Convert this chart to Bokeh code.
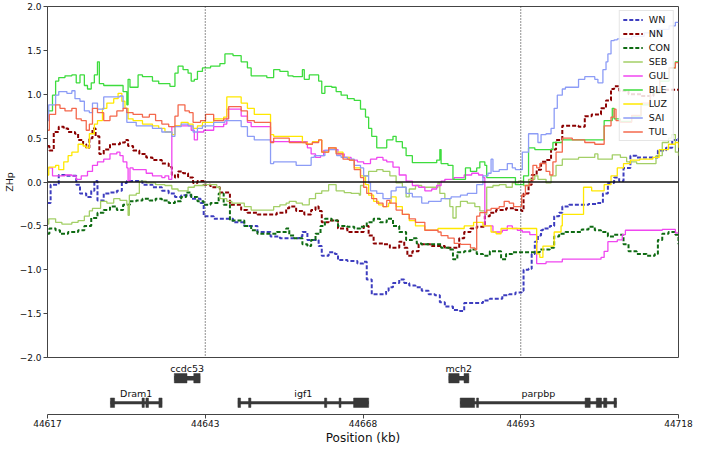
import numpy as np
from bokeh.plotting import figure
from bokeh.models import (Range1d, FixedTicker, Span, Legend, LegendItem,
                          CustomJSTickFormatter)
from bokeh.layouts import column
from bokeh.core.properties import value
from bokeh.embed import file_html
from bokeh.resources import INLINE

# ---------------- data ----------------
REGION_START = 44617  # kb
TICK_OFFSETS = [0, 25.25, 50.5, 75.75, 101]
TICK_LABELS = ["44617", "44643", "44668", "44693", "44718"]
BOUNDARY_OFFSETS = [25.25, 75.75]
Y_TICKS = [-2.0, -1.5, -1.0, -0.5, 0.0, 0.5, 1.0, 1.5, 2.0]

SERIES = ["WN", "NN", "CON", "SEB", "GUL", "BLE", "LUZ", "SAI", "TUL"]

WN_OFF = [0, 0.5, 1.8, 2.8, 4.6, 5.2, 6.2, 7.0, 7.5, 8.0, 9.0, 10.0, 11.1, 11.9, 12.7, 15.2, 16.8, 18.3,
          19.4, 20.4, 21.4, 23.0, 24.5, 25.0, 26.6, 29.7, 31.5, 33.6, 35.7, 37.2, 40.3, 40.8, 41.6, 43.4,
          43.9, 45.0, 46.0, 46.5, 48.0, 49.6, 50.6, 51.1, 51.9, 54.2, 54.6, 55.3, 56.3, 57.1, 57.9, 58.9,
          59.9, 61.0, 62.0, 62.8, 63.6, 64.9, 66.0, 66.7, 69.7, 70.8, 72.8, 73.9, 74.9, 75.9, 76.2, 77.0,
          77.5, 78.0, 78.5, 79.0, 79.3, 80.4, 81.1, 81.9, 82.4, 83.5, 86.6, 88.1, 88.9, 89.7, 90.7, 91.5,
          92.2, 93.3, 94.3, 97.7, 99.0, 100.0, 101]
WN_ZHP = [-0.24, -0.03, 0.08, 0.07, -0.03, -0.13, -0.17, -0.10, 0.01, -0.21, -0.13, -0.12, -0.10, -0.01, 0.01, -0.03, -0.06, -0.10,
          -0.13, -0.17, -0.15, -0.19, -0.24, -0.39, -0.42, -0.46, -0.50, -0.57, -0.62, -0.64, -0.62, -0.57, -0.66, -0.73,
          -0.84, -0.80, -0.82, -0.89, -0.90, -0.93, -0.91, -1.11, -1.28, -1.24, -1.20, -1.15, -1.11, -1.15, -1.18, -1.20,
          -1.24, -1.28, -1.29, -1.37, -1.42, -1.46, -1.47, -1.38, -1.35, -1.33, -1.29, -1.28, -1.26, -1.24, -1.00, -0.99,
          -0.82, -0.68, -0.61, -0.55, -0.53, -0.50, -0.39, -0.35, -0.28, -0.26, -0.25, -0.24, -0.13, -0.01, 0.05, 0.01,
          0.16, 0.30, 0.28, 0.36, 0.39, 0.48, 0.50]

NN_OFF = [0, 0.3, 1.0, 1.8, 2.6, 3.3, 4.4, 4.9, 5.7, 6.2, 6.7, 7.2, 7.7, 8.3, 9.0, 10.0, 11.6, 12.4, 12.9,
          13.7, 14.7, 15.8, 16.8, 18.3, 19.4, 19.9, 20.4, 20.9, 21.7, 22.5, 23.3, 24.0, 25.0, 26.1, 27.6,
          29.2, 31.0, 32.0, 33.6, 36.7, 38.2, 38.7, 39.8, 41.1, 42.2, 42.9, 43.4, 43.9, 45.0, 46.5, 48.0,
          50.6, 51.4, 52.2, 53.7, 54.8, 56.3, 57.1, 57.6, 58.4, 59.4, 61.5, 63.6, 65.9, 66.7, 67.7, 68.7,
          70.0, 70.8, 71.8, 73.4, 74.9, 75.9, 76.2, 77.0, 77.5, 78.3, 79.0, 79.8, 80.6, 81.4, 82.4, 85.0,
          86.0, 87.1, 88.6, 89.4, 90.2, 90.7, 91.5, 93.0, 95.0, 97.0, 99.0, 101]
NN_ZHP = [0.41, 0.36, 0.57, 0.63, 0.61, 0.57, 0.55, 0.48, 0.43, 0.39, 0.50, 0.61, 0.52, 0.32, 0.37, 0.43, 0.45, 0.48, 0.41,
          0.36, 0.32, 0.28, 0.25, 0.21, 0.17, 0.08, 0.05, 0.12, 0.10, 0.05, -0.01, 0.01, -0.03, -0.06, -0.12,
          -0.26, -0.32, -0.35, -0.37, -0.35, -0.30, -0.28, -0.33, -0.37, -0.32, -0.28, -0.33, -0.46, -0.44, -0.53, -0.57,
          -0.50, -0.61, -0.70, -0.71, -0.75, -0.68, -0.75, -0.84, -0.79, -0.71, -0.73, -0.75, -0.64, -0.57, -0.53, -0.51,
          -0.39, -0.35, -0.32, -0.30, -0.32, -0.33, -0.13, -0.03, 0.08, 0.14, 0.23, 0.25, 0.37, 0.48, 0.64, 0.63,
          0.75, 0.77, 0.84, 0.93, 1.06, 1.09, 1.04, 1.00, 0.98, 1.02, 1.05, 1.06]

CON_OFF = [0, 0.3, 1.3, 2.0, 3.3, 4.9, 5.9, 7.0, 8.0, 9.0, 10.0, 11.1, 12.1, 13.2, 14.2, 15.2, 16.3, 17.3,
           18.3, 19.4, 20.4, 21.4, 22.2, 23.0, 24.0, 25.0, 26.1, 27.4, 28.2, 29.2, 31.5, 32.6, 33.6, 36.7,
           38.2, 38.7, 39.5, 40.8, 41.6, 42.2, 42.9, 43.7, 44.4, 45.5, 46.5, 48.0, 49.1, 50.1, 51.1, 52.2,
           53.2, 54.3, 55.3, 56.3, 57.4, 58.4, 59.1, 59.9, 63.0, 64.4, 64.9, 65.6, 66.7, 67.7, 68.7, 69.7,
           70.8, 72.6, 73.4, 74.4, 78.8, 80.4, 81.1, 81.9, 82.9, 85.5, 86.6, 87.6, 88.6, 89.7, 90.7, 92.2,
           93.0, 94.3, 95.9, 97.2, 97.7, 98.4, 99.4, 100.5, 101]
CON_ZHP = [-0.59, -0.53, -0.55, -0.59, -0.57, -0.55, -0.50, -0.41, -0.35, -0.32, -0.28, -0.32, -0.26, -0.22, -0.21, -0.19, -0.21, -0.19,
           -0.21, -0.24, -0.22, -0.17, -0.12, -0.17, -0.22, -0.26, -0.24, -0.13, -0.26, -0.44, -0.50, -0.55, -0.59, -0.57,
           -0.53, -0.61, -0.64, -0.71, -0.73, -0.66, -0.59, -0.50, -0.42, -0.44, -0.50, -0.51, -0.53, -0.51, -0.46, -0.42,
           -0.46, -0.42, -0.50, -0.57, -0.66, -0.64, -0.70, -0.71, -0.75, -0.77, -0.88, -0.80, -0.79, -0.77, -0.82, -0.84,
           -0.79, -0.88, -0.82, -0.80, -0.77, -0.75, -0.62, -0.59, -0.57, -0.54, -0.51, -0.55, -0.57, -0.62, -0.60, -0.71,
           -0.79, -0.82, -0.84, -0.82, -0.66, -0.59, -0.57, -0.60, -0.71]

SEB_OFF = [0, 0.2, 1.3, 2.3, 3.9, 4.9, 5.9, 6.7, 7.2, 8.5, 9.5, 10.6, 11.6, 12.7, 12.9, 13.1, 14.2, 14.7,
           15.8, 17.3, 18.8, 19.9, 20.9, 22.5, 23.5, 25.0, 27.1, 27.6, 28.7, 29.5, 31.5, 32.6, 36.2, 37.2,
           38.2, 38.7, 39.8, 40.8, 41.9, 42.9, 43.9, 45.0, 46.2, 47.5, 48.6, 49.9, 50.1, 50.6, 51.4, 52.7,
           53.7, 54.8, 55.8, 56.8, 57.4, 57.9, 58.9, 59.9, 62.5, 62.8, 63.6, 64.4, 64.9, 65.4, 66.1, 67.2,
           68.4, 69.2, 70.0, 70.3, 71.3, 72.3, 73.4, 74.4, 75.4, 76.2, 77.0, 78.0, 78.5, 79.8, 80.6, 81.4,
           82.4, 85.0, 87.6, 88.1, 90.4, 91.7, 92.7, 94.3, 97.4, 98.4, 99.4, 99.9, 100.5, 101]
SEB_ZHP = [-0.48, -0.42, -0.46, -0.48, -0.46, -0.44, -0.39, -0.33, -0.30, -0.22, -0.24, -0.19, -0.21, -0.26, -0.38, -0.15, -0.13, 0.01,
           -0.01, -0.03, -0.04, -0.08, -0.10, -0.06, -0.04, -0.03, -0.06, -0.19, -0.22, -0.24, -0.28, -0.32, -0.28, -0.26,
           -0.24, -0.22, -0.24, -0.26, -0.19, -0.13, -0.10, -0.03, -0.10, -0.12, -0.13, -0.15, -0.04, 0.07, 0.12, 0.14,
           0.12, 0.07, -0.01, -0.06, -0.17, -0.08, -0.04, -0.06, -0.01, -0.13, -0.19, -0.28, -0.41, -0.28, -0.22, -0.24,
           -0.28, -0.33, -0.37, -0.06, -0.04, -0.03, -0.06, -0.01, 0.01, -0.04, 0.03, 0.07, 0.03, -0.01, 0.07, 0.19,
           0.26, 0.28, 0.32, 0.26, 0.31, 0.28, 0.23, 0.21, 0.30, 0.45, 0.50, 0.54, 0.34, 0.30]

GUL_OFF = [0, 0.8, 2.8, 3.9, 4.6, 5.4, 6.4, 7.2, 8.0, 9.0, 10.0, 11.1, 11.6, 12.1, 12.7, 12.9, 13.2, 13.7,
           15.8, 16.8, 18.3, 18.8, 19.4, 19.9, 20.4, 23.0, 23.5, 24.0, 25.0, 26.6, 28.2, 28.7, 31.0, 32.0,
           32.6, 35.7, 41.6, 42.2, 42.9, 43.7, 44.2, 45.0, 46.0, 46.5, 47.5, 48.6, 49.6, 50.6, 51.7, 52.7,
           53.7, 54.3, 55.3, 56.3, 57.4, 58.4, 59.4, 60.4, 61.5, 62.3, 63.0, 63.6, 65.1, 66.7, 67.9, 69.0,
           69.7, 70.0, 71.3, 72.8, 73.6, 74.4, 75.2, 76.0, 77.2, 78.3, 79.8, 82.4, 88.6, 89.1, 89.7, 91.2,
           92.0, 92.5, 98.4, 100.5, 101]
GUL_ZHP = [0.16, 0.07, 0.08, 0.07, 0.03, 0.07, 0.12, 0.19, 0.23, 0.26, 0.32, 0.34, 0.30, 0.23, 0.16, 0.01, 0.16, 0.14,
           0.10, 0.07, 0.05, 0.07, 0.03, 0.63, 0.64, 0.59, 0.48, 0.57, 0.59, 0.63, 0.66, 0.83, 0.75, 0.68,
           0.63, 0.46, 0.39, 0.32, 0.28, 0.30, 0.36, 0.39, 0.37, 0.32, 0.28, 0.25, 0.23, 0.21, 0.26, 0.28,
           0.25, 0.23, 0.17, 0.08, 0.01, -0.04, -0.06, -0.10, -0.08, -0.04, 0.01, 0.03, 0.05, 0.08, 0.10, 0.08,
           0.05, -0.50, -0.57, -0.55, -0.50, -0.53, -0.55, -0.57, -0.60, -0.93, -0.91, -0.88, -0.86, -0.79, -0.68, -0.66,
           -0.60, -0.55, -0.54, -0.58, -0.58]

BLE_OFF = [0, 0.8, 1.3, 1.8, 2.8, 3.9, 4.6, 5.2, 5.9, 6.4, 7.0, 7.5, 8.0, 8.3, 9.0, 12.1, 12.7, 12.9, 13.2,
           14.5, 15.2, 16.8, 17.8, 19.6, 20.4, 20.9, 21.7, 22.5, 23.0, 23.5, 24.0, 24.8, 26.1, 27.6, 28.4,
           29.7, 31.0, 32.0, 32.6, 35.1, 36.2, 37.2, 38.5, 39.3, 40.8, 41.1, 41.9, 43.4, 43.9, 44.4, 45.5,
           46.2, 47.0, 48.0, 49.1, 50.1, 50.9, 51.4, 51.9, 52.7, 54.3, 55.3, 55.8, 56.8, 57.4, 58.4, 62.3,
           62.8, 63.0, 64.1, 64.9, 66.9, 67.7, 68.7, 69.2, 70.0, 70.3, 74.9, 76.2, 77.0, 78.0, 80.9, 82.4,
           89.1, 90.4, 90.7, 91.7, 93.5, 95.0, 96.5, 98.0, 99.5, 100.5, 101]
BLE_ZHP = [0.81, 0.99, 1.15, 1.19, 1.21, 1.22, 1.13, 1.22, 1.10, 1.06, 1.13, 1.22, 1.37, 1.12, 1.10, 1.03, 0.88, 1.17, 1.08,
           1.22, 1.20, 1.15, 1.12, 1.09, 1.24, 1.32, 1.28, 1.24, 1.15, 1.17, 1.26, 1.30, 1.32, 1.35, 1.46,
           1.44, 1.37, 1.30, 1.21, 1.19, 1.28, 1.26, 1.21, 1.20, 1.28, 1.17, 1.22, 1.15, 1.01, 1.09, 1.08,
           1.03, 0.99, 0.95, 0.93, 0.83, 0.74, 0.61, 0.52, 0.39, 0.48, 0.52, 0.46, 0.39, 0.30, 0.22, 0.25,
           0.37, 0.21, 0.19, 0.03, 0.16, 0.12, 0.16, 0.23, 0.19, 0.05, -0.03, 0.07, 0.39, 0.37, 0.45, 0.48,
           0.70, 0.84, 0.72, 0.69, 0.75, 0.88, 1.02, 1.15, 1.30, 1.37, 1.37]

LUZ_OFF = [0, 0.2, 1.3, 1.8, 2.6, 3.3, 3.9, 4.9, 5.7, 6.2, 6.7, 7.5, 8.0, 8.8, 9.5, 10.6, 11.3, 11.9, 12.4,
           12.9, 13.7, 15.2, 16.8, 17.8, 18.8, 19.9, 20.4, 21.4, 22.5, 23.3, 24.0, 24.8, 26.6, 28.2, 28.7,
           31.0, 32.0, 33.1, 35.7, 36.2, 40.8, 41.6, 42.4, 43.4, 43.9, 45.0, 46.2, 47.3, 48.3, 49.1, 50.1,
           50.9, 51.4, 52.2, 53.0, 53.7, 54.6, 55.0, 55.8, 56.8, 57.9, 58.9, 60.4, 62.5, 66.7, 68.2, 69.7,
           71.0, 71.8, 72.6, 78.3, 78.8, 79.3, 81.1, 82.2, 82.4, 85.8, 87.1, 89.1, 90.2, 91.2, 92.2, 93.3,
           94.8, 96.9, 97.9, 99.4, 100.5, 101]
LUZ_ZHP = [0.08, 0.17, 0.19, 0.14, 0.23, 0.30, 0.34, 0.43, 0.41, 0.39, 0.55, 0.66, 0.70, 0.84, 0.90, 0.95, 1.01, 0.92, 0.84,
           0.72, 0.70, 0.66, 0.64, 0.61, 0.57, 0.54, 0.64, 0.68, 0.66, 0.61, 0.64, 0.68, 0.72, 0.74, 0.97,
           0.90, 0.84, 0.77, 0.54, 0.52, 0.45, 0.43, 0.46, 0.48, 0.34, 0.39, 0.34, 0.28, 0.25, 0.16, 0.07,
           -0.03, -0.15, -0.22, -0.26, -0.28, -0.24, -0.17, -0.28, -0.37, -0.44, -0.50, -0.55, -0.53, -0.50, -0.46, -0.50,
           -0.57, -0.59, -0.53, -0.82, -0.86, -0.73, -0.57, -0.50, -0.37, -0.06, -0.10, -0.03, 0.07, 0.16, 0.21, 0.25,
           0.26, 0.28, 0.37, 0.43, 0.45, 0.39]

SAI_OFF = [0, 0.2, 1.3, 1.8, 3.1, 3.9, 4.4, 5.2, 5.9, 6.7, 7.2, 8.0, 9.0, 11.6, 12.1, 12.7, 14.2, 16.8, 18.3,
           19.9, 20.4, 21.4, 22.5, 23.3, 24.0, 24.8, 26.6, 28.4, 31.0, 32.0, 33.1, 35.7, 36.2, 39.8, 42.2,
           42.7, 44.4, 45.0, 46.3, 47.0, 48.0, 49.1, 50.1, 50.6, 51.4, 51.7, 52.7, 53.7, 55.0, 55.8, 57.4,
           58.4, 59.9, 61.0, 63.0, 64.6, 66.1, 67.2, 68.7, 69.7, 70.5, 71.0, 71.3, 72.3, 73.6, 74.4, 74.9,
           76.0, 77.0, 78.5, 79.0, 79.8, 80.6, 81.1, 81.6, 82.4, 82.9, 85.0, 86.0, 87.6, 88.1, 88.9, 89.4,
           89.7, 90.2, 90.7, 91.2, 93.5, 95.5, 97.5, 99.5, 100.5, 101]
SAI_ZHP = [0.70, 0.88, 0.99, 1.03, 1.01, 1.04, 0.95, 0.92, 0.81, 0.79, 0.90, 0.83, 0.97, 0.98, 0.84, 0.68, 0.64, 0.61, 0.57,
           0.52, 0.63, 0.66, 0.64, 0.57, 0.61, 0.64, 0.68, 0.70, 0.63, 0.52, 0.48, 0.21, 0.23, 0.19, 0.28,
           0.30, 0.36, 0.37, 0.30, 0.28, 0.26, 0.19, 0.16, 0.07, -0.01, -0.10, -0.13, -0.19, -0.10, -0.06, -0.13,
           -0.17, -0.24, -0.22, -0.19, -0.17, -0.15, -0.13, -0.03, 0.07, 0.10, 0.26, 0.12, 0.14, 0.21, 0.16, 0.14,
           0.34, 0.55, 0.45, 0.54, 0.55, 0.61, 0.84, 0.99, 1.06, 1.08, 1.17, 1.20, 1.17, 1.13, 1.28, 1.37,
           1.46, 1.61, 1.62, 1.63, 1.66, 1.70, 1.74, 1.78, 1.82, 1.82]

TUL_OFF = [0, 0.3, 1.3, 2.0, 2.8, 3.9, 4.6, 5.4, 6.2, 6.7, 7.2, 8.0, 9.0, 10.0, 11.1, 12.1, 12.7, 13.7, 15.2,
           16.3, 17.3, 18.3, 19.4, 20.4, 20.9, 22.0, 22.7, 23.3, 24.5, 25.3, 26.6, 28.2, 29.0, 31.0, 32.0,
           33.1, 35.7, 36.2, 38.7, 41.4, 42.4, 43.4, 43.9, 45.0, 46.2, 47.3, 48.3, 49.1, 50.1, 50.6, 51.1,
           51.9, 52.7, 53.7, 54.3, 54.8, 55.8, 56.8, 57.9, 58.9, 60.4, 62.5, 63.0, 64.1, 65.1, 66.1, 67.7,
           68.4, 68.7, 69.2, 70.3, 71.0, 72.3, 73.1, 73.9, 74.6, 75.9, 76.5, 77.2, 77.7, 78.3, 78.8, 79.8,
           80.4, 80.9, 81.4, 82.4, 84.0, 86.0, 87.6, 89.1, 90.2, 90.7, 91.0, 91.7, 93.5, 95.0, 96.5, 98.0,
           99.5, 100.5, 101]
TUL_ZHP = [0.59, 0.77, 0.88, 0.84, 0.81, 0.84, 0.72, 0.70, 0.59, 0.66, 0.84, 0.79, 0.70, 0.75, 0.81, 0.84, 0.79, 0.77, 0.74,
           0.77, 0.70, 0.66, 0.63, 0.75, 0.88, 0.81, 0.79, 0.68, 0.70, 0.77, 0.70, 0.72, 0.86, 0.81, 0.70,
           0.68, 0.45, 0.50, 0.45, 0.43, 0.45, 0.48, 0.34, 0.39, 0.32, 0.26, 0.25, 0.14, 0.05, -0.06, -0.13,
           -0.19, -0.24, -0.28, -0.21, -0.24, -0.32, -0.37, -0.42, -0.46, -0.55, -0.57, -0.61, -0.64, -0.70, -0.71, -0.75,
           -0.77, -0.39, -0.35, -0.32, -0.30, -0.28, -0.22, -0.24, -0.28, -0.15, -0.04, 0.01, 0.19, 0.16, 0.21, 0.12,
           0.08, 0.23, 0.34, 0.50, 0.48, 0.45, 0.43, 0.64, 0.74, 0.83, 0.70, 0.68, 0.76, 0.90, 1.05, 1.18,
           1.30, 1.36, 1.36]

SERIES_DATA = {
    "WN": (WN_OFF, WN_ZHP), "NN": (NN_OFF, NN_ZHP), "CON": (CON_OFF, CON_ZHP),
    "SEB": (SEB_OFF, SEB_ZHP), "GUL": (GUL_OFF, GUL_ZHP), "BLE": (BLE_OFF, BLE_ZHP),
    "LUZ": (LUZ_OFF, LUZ_ZHP), "SAI": (SAI_OFF, SAI_ZHP), "TUL": (TUL_OFF, TUL_ZHP),
}

# genes: name, track row (1 = upper), exon (start, end) offsets in kb
GENE_NAMES = ["Dram1", "ccdc53", "igf1", "mch2", "parpbp"]
GENE_ROWS = [2, 1, 2, 1, 2]
GENE_EXONS = [
    [(10.07, 10.74), (15.13, 15.50), (15.75, 16.17), (17.83, 18.34)],
    [(20.30, 22.33), (23.41, 24.43)],
    [(30.48, 30.90), (32.19, 32.56), (44.34, 44.70), (46.67, 46.98), (48.99, 51.41)],
    [(64.23, 65.89), (66.67, 67.44)],
    [(66.05, 68.37), (68.68, 68.99), (86.05, 86.87), (87.84, 88.68), (89.02, 89.53), (90.68, 91.08)],
]

# ---------------- style ----------------
COLORS = {"WN": "#3d3dbf", "NN": "#8b0000", "CON": "#0e6b12", "SEB": "#a3cf66",
          "GUL": "#f046f0", "BLE": "#3ddc3d", "LUZ": "#ffe800", "SAI": "#8c9cf6",
          "TUL": "#f4684c"}
DASHED = {"WN", "NN", "CON"}
FONT = "DejaVu Sans"
GENE_COLOR = "#383838"
TRACK_TOP = 52
ROW_BOX_Y = {1: 37.0, 2: 12.0}
LABEL_RISE = {1: 10.2, 2: 9.3}
EXON_H = 9.6
INTRON_W = [3.2, 4.5, 3.2, 4.5, 3.2]

ylab_js = "return tick.toFixed(1).replace('-', '\u2212');"

# ---------------- main plot ----------------
x_range = Range1d(REGION_START + TICK_OFFSETS[0], REGION_START + TICK_OFFSETS[-1])
p = figure(width=693, height=363, x_range=x_range, y_range=Range1d(-2, 2),
           x_axis_location=None, toolbar_location=None, output_backend="svg",
           min_border_top=6, min_border_bottom=6, min_border_right=15, min_border_left=0)
p.grid.visible = False
p.outline_line_color = "#444444"
p.outline_line_width = 1
p.background_fill_color = "white"
p.border_fill_color = "white"

ya = p.yaxis[0]
ya.ticker = FixedTicker(ticks=Y_TICKS)
ya.formatter = CustomJSTickFormatter(code=ylab_js)
ya.axis_label = "ZHp"
ya.axis_label_text_font = FONT
ya.axis_label_text_font_size = "9.5px"
ya.axis_label_text_font_style = "normal"
ya.axis_label_text_color = "#111111"
ya.axis_label_standoff = 2
ya.major_label_text_font = FONT
ya.major_label_text_font_size = "9px"
ya.major_label_text_color = "#111111"
ya.major_label_standoff = 2
ya.major_tick_out = 4
ya.major_tick_in = 0
ya.minor_tick_out = 0
ya.minor_tick_in = 0
ya.axis_line_color = "#444444"
ya.major_tick_line_color = "#444444"

items = []
for name in SERIES:
    offs, vals = SERIES_DATA[name]
    xs = [REGION_START + o for o in offs]
    if name in DASHED:
        r = p.step(xs, vals, mode="after", line_color=COLORS[name], line_width=2.0,
                   line_dash="4 2")
    else:
        r = p.step(xs, vals, mode="after", line_color=COLORS[name], line_width=1.3)
    items.append(LegendItem(label=name, renderers=[r]))

p.add_layout(Span(location=0, dimension="width", line_color="#111111", line_width=1.5))
for b in BOUNDARY_OFFSETS:
    p.add_layout(Span(location=REGION_START + b, dimension="height", line_color="#222222",
                      line_width=1, line_dash="1 2"))

legend = Legend(items=items, location="top_right")
legend.label_text_font = FONT
legend.label_text_font_size = "9.5px"
legend.label_text_color = "#111111"
legend.glyph_width = 20
legend.glyph_height = 11
legend.label_height = 11
legend.label_standoff = 6
legend.spacing = 3
legend.padding = 3
legend.margin = 4
legend.border_line_color = "#cccccc"
legend.border_line_width = 1
legend.background_fill_color = "white"
legend.background_fill_alpha = 0.85
p.add_layout(legend)

# ---------------- gene track ----------------
g = figure(width=693, height=84, x_range=x_range, y_range=Range1d(0, TRACK_TOP),
           toolbar_location=None, output_backend="svg",
           min_border_top=0, min_border_bottom=0, min_border_right=15, min_border_left=0)
g.grid.visible = False
g.outline_line_color = None
g.background_fill_color = "white"
g.border_fill_color = "white"

# invisible y axis so that both frames line up
gy = g.yaxis[0]
gy.ticker = FixedTicker(ticks=[TRACK_TOP / 2])
gy.major_label_overrides = {TRACK_TOP / 2: "\u22122.0"}
gy.axis_label = "ZHp"
gy.axis_label_text_font = FONT
gy.axis_label_text_font_size = "9.5px"
gy.axis_label_text_font_style = "normal"
gy.axis_label_text_alpha = 0
gy.axis_label_standoff = 2
gy.major_label_text_font = FONT
gy.major_label_text_font_size = "9px"
gy.major_label_text_alpha = 0
gy.major_label_standoff = 2
gy.major_tick_out = 4
gy.major_tick_in = 0
gy.minor_tick_out = 0
gy.minor_tick_in = 0
gy.axis_line_alpha = 0
gy.major_tick_line_alpha = 0

xa = g.xaxis[0]
xa.ticker = FixedTicker(ticks=[REGION_START + t for t in TICK_OFFSETS])
xa.major_label_overrides = {REGION_START + t: lab for t, lab in zip(TICK_OFFSETS, TICK_LABELS)}
xa.axis_label = "Position (kb)"
xa.axis_label_text_font = FONT
xa.axis_label_text_font_size = "12px"
xa.axis_label_text_font_style = "normal"
xa.axis_label_text_color = "#111111"
xa.axis_label_standoff = 1
xa.major_label_text_font = FONT
xa.major_label_text_font_size = "9px"
xa.major_label_text_color = "#111111"
xa.major_label_standoff = 1
xa.major_tick_out = 4
xa.major_tick_in = 0
xa.minor_tick_out = 0
xa.minor_tick_in = 0
xa.axis_line_color = "#444444"
xa.major_tick_line_color = "#444444"

left, right, bottom, top = [], [], [], []
tx, ty, tt = [], [], []
for name, row, exons, iw in zip(GENE_NAMES, GENE_ROWS, GENE_EXONS, INTRON_W):
    yb = ROW_BOX_Y[row]
    for s, e in exons:
        left.append(REGION_START + s)
        right.append(REGION_START + e)
        bottom.append(yb - EXON_H / 2)
        top.append(yb + EXON_H / 2)
    gs = min(s for s, _ in exons)
    ge = max(e for _, e in exons)
    g.segment(x0=[REGION_START + gs], y0=[yb], x1=[REGION_START + ge], y1=[yb],
              line_color=GENE_COLOR, line_width=iw)
    tx.append(REGION_START + (gs + ge) / 2)
    ty.append(yb + LABEL_RISE[row])
    tt.append(name)

g.quad(left=left, right=right, bottom=bottom, top=top, fill_color=GENE_COLOR,
       line_color=GENE_COLOR, line_width=0.5)
g.text(x=tx, y=ty, text=tt, text_font=value(FONT), text_font_size=value("9.5px"),
       text_align="center", text_baseline="middle", text_color="#111111")

layout = column(p, g, spacing=0)
open("out.html", "w").write(file_html(layout, INLINE))
